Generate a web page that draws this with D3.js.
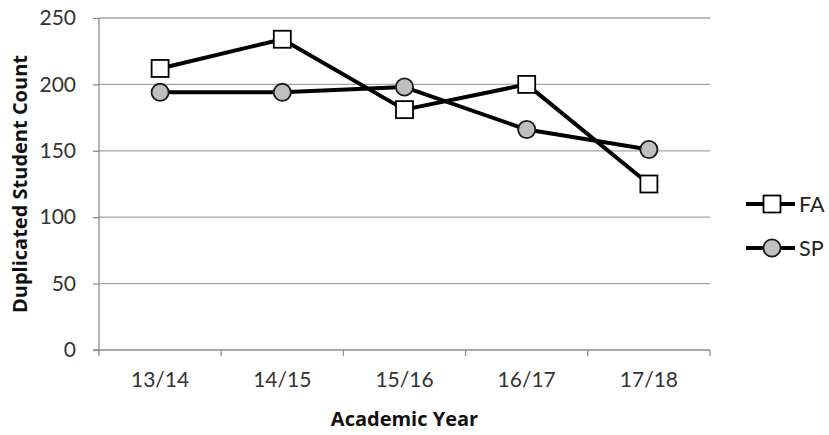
<!DOCTYPE html>
<html>
<head>
<meta charset="utf-8">
<script src="https://cdn.jsdelivr.net/npm/d3@7"></script>
<style>
  html, body { margin: 0; padding: 0; background: #fff; }
  svg { display: block; font-family: Lato, "Open Sans", sans-serif; }
</style>
</head>
<body>
<svg id="chart" width="829" height="435"></svg>
<script>
// Academic years on the x axis
const years = ["13/14", "14/15", "15/16", "16/17", "17/18"];
// Duplicated student counts per term
const faValues = [212, 234, 181, 200, 125];
const spValues = [194, 194, 198, 166, 151];
const yTicks = [0, 50, 100, 150, 200, 250];
const seriesNames = ["FA", "SP"];

const svg = d3.select("#chart");
const margin = { left: 99, right: 119, top: 18, bottom: 85 };
const W = 829, H = 435;

const x = d3.scaleBand().domain(years).range([margin.left, W - margin.right]);
const y = d3.scaleLinear().domain([0, 250]).range([H - margin.bottom, margin.top]);

// horizontal gridlines
svg.append("g")
  .selectAll("line")
  .data(yTicks.filter(t => t > 0))
  .join("line")
  .attr("x1", margin.left).attr("x2", W - margin.right)
  .attr("y1", d => y(d)).attr("y2", d => y(d))
  .attr("stroke", "#a6a6a6").attr("stroke-width", 1.3);

// y axis
const yAxis = svg.append("g")
  .attr("transform", `translate(${margin.left},0)`)
  .call(d3.axisLeft(y).tickValues(yTicks).tickSize(6).tickPadding(17));
yAxis.select(".domain").attr("stroke", "#8c8c8c").attr("stroke-width", 1.3)
  .attr("d", `M-6,${y(0)}H0V${y(250)}`);
yAxis.selectAll(".tick line").attr("stroke", "#8c8c8c").attr("stroke-width", 1.3);
yAxis.selectAll(".tick text").attr("font-size", 21).attr("fill", "#333")
  .attr("font-family", "Lato, sans-serif");

// x axis with ticks at band edges
const xAxis = svg.append("g")
  .attr("transform", `translate(0,${y(0)})`)
  .call(d3.axisBottom(x).tickSize(0).tickPadding(22));
xAxis.select(".domain").attr("stroke", "#8c8c8c").attr("stroke-width", 1.3)
  .attr("d", `M${margin.left},0H${W - margin.right}`);
xAxis.selectAll(".tick text").attr("font-size", 21).attr("fill", "#333")
  .attr("font-family", "Lato, sans-serif");
const edges = years.map(d => x(d)).concat([x(years[years.length - 1]) + x.bandwidth()]);
svg.append("g").selectAll("line").data(edges).join("line")
  .attr("x1", d => d).attr("x2", d => d)
  .attr("y1", y(0)).attr("y2", y(0) + 6)
  .attr("stroke", "#8c8c8c").attr("stroke-width", 1.3);

// axis titles
svg.append("text")
  .attr("transform", `translate(27,${(y(0) + y(250)) / 2}) rotate(-90)`)
  .attr("text-anchor", "middle")
  .attr("font-family", "'Open Sans', sans-serif")
  .attr("font-size", 20).attr("font-weight", "bold").attr("fill", "#111")
  .text("Duplicated Student Count");
svg.append("text")
  .attr("x", (margin.left + W - margin.right) / 2).attr("y", 426)
  .attr("text-anchor", "middle")
  .attr("font-family", "'Open Sans', sans-serif")
  .attr("font-size", 20).attr("font-weight", "bold").attr("fill", "#111")
  .text("Academic Year");

const cx = d => x(d) + x.bandwidth() / 2;
const line = d3.line().x(d => cx(d.year)).y(d => y(d.value));

const series = [
  { name: "FA", values: faValues, shape: "square", fill: "#ffffff" },
  { name: "SP", values: spValues, shape: "circle", fill: "#bfbfbf" }
];

function drawMarker(g, shape, fill, px, py) {
  if (shape === "square") {
    g.append("rect")
      .attr("x", px - 8.5).attr("y", py - 8.5)
      .attr("width", 17).attr("height", 17)
      .attr("fill", fill).attr("stroke", "#000").attr("stroke-width", 1.8);
  } else {
    g.append("circle")
      .attr("cx", px).attr("cy", py).attr("r", 8.6)
      .attr("fill", fill).attr("stroke", "#1a1a1a").attr("stroke-width", 1.8);
  }
}

// lines first, then markers on top
series.forEach(s => {
  const pts = years.map((yr, i) => ({ year: yr, value: s.values[i] }));
  svg.append("path").datum(pts)
    .attr("d", line)
    .attr("fill", "none").attr("stroke", "#000").attr("stroke-width", 4)
    .attr("stroke-linejoin", "round");
});
series.forEach(s => {
  const g = svg.append("g");
  years.forEach((yr, i) => drawMarker(g, s.shape, s.fill, cx(yr), y(s.values[i])));
});

// legend
const legendY = [204, 248];
series.forEach((s, i) => {
  const g = svg.append("g");
  g.append("line")
    .attr("x1", 746).attr("x2", 795)
    .attr("y1", legendY[i]).attr("y2", legendY[i])
    .attr("stroke", "#000").attr("stroke-width", 4);
  drawMarker(g, s.shape, s.fill, 772, legendY[i]);
  g.append("text")
    .attr("x", 799).attr("y", legendY[i] + 7.5)
    .attr("font-size", 21.5).attr("fill", "#222")
    .text(seriesNames[i]);
});
</script>
</body>
</html>
